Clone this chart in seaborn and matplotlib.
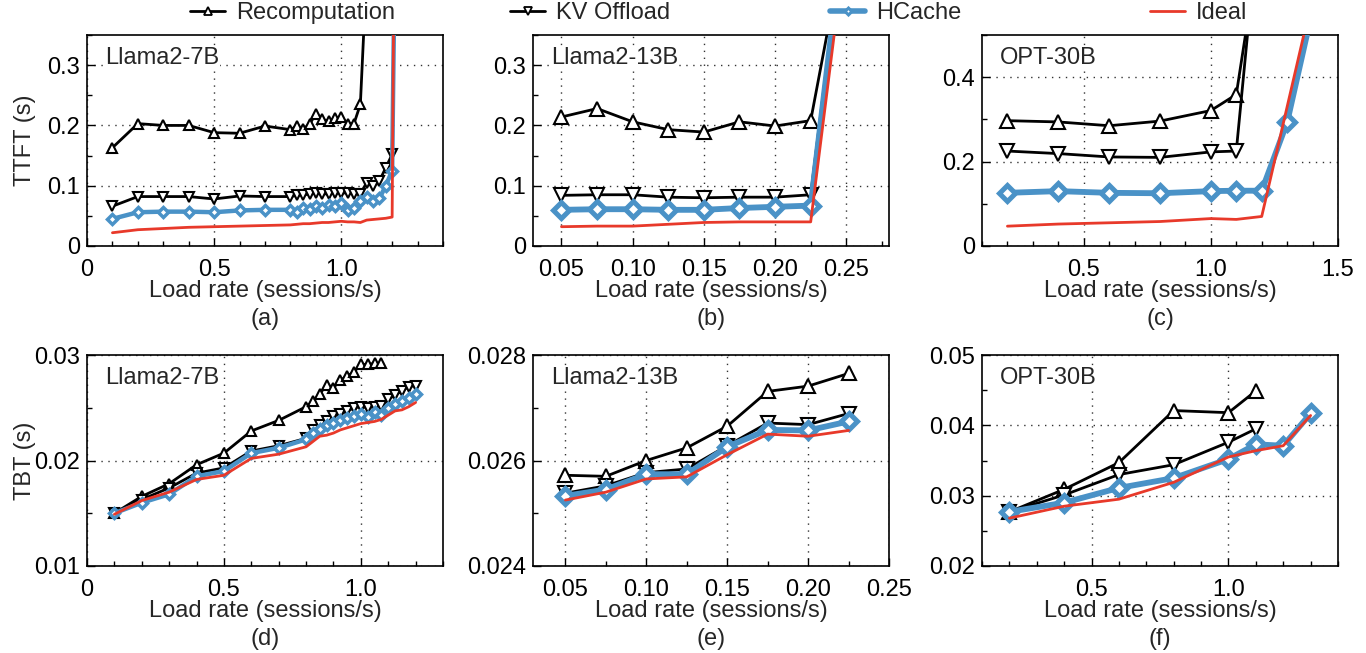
import seaborn as sns
import matplotlib.pyplot as plt
from matplotlib.lines import Line2D
from matplotlib.ticker import MultipleLocator

# (a) Llama2-7B TTFT
a_recomp_x = [0.1, 0.2, 0.3, 0.4, 0.5, 0.6, 0.7, 0.8, 0.825, 0.85, 0.875, 0.9, 0.925,
              0.95, 0.975, 1.0, 1.025, 1.05, 1.075, 1.1]
a_recomp = [0.163, 0.203, 0.200, 0.200, 0.188, 0.187, 0.199, 0.193, 0.199, 0.194, 0.202,
            0.219, 0.210, 0.207, 0.212, 0.214, 0.203, 0.203, 0.235, 0.46]
a_x = [0.1, 0.2, 0.3, 0.4, 0.5, 0.6, 0.7, 0.8, 0.825, 0.85, 0.875, 0.9, 0.925, 0.95,
       0.975, 1.0, 1.025, 1.05, 1.075, 1.1, 1.125, 1.15, 1.175, 1.2, 1.225]
a_kv = [0.066, 0.082, 0.082, 0.082, 0.078, 0.083, 0.082, 0.082, 0.084, 0.085, 0.086,
        0.088, 0.087, 0.086, 0.088, 0.088, 0.088, 0.087, 0.087, 0.105, 0.100, 0.108,
        0.130, 0.152, 0.9]
a_hcache = [0.045, 0.056, 0.057, 0.057, 0.056, 0.059, 0.060, 0.060, 0.057, 0.063, 0.061,
            0.066, 0.063, 0.068, 0.066, 0.071, 0.060, 0.063, 0.074, 0.082, 0.074, 0.079,
            0.100, 0.125, 1.0]
a_ideal = [0.022, 0.027, 0.029, 0.031, 0.032, 0.033, 0.034, 0.035, 0.036, 0.037, 0.037,
           0.038, 0.039, 0.039, 0.040, 0.041, 0.040, 0.040, 0.039, 0.043, 0.044, 0.045,
           0.046, 0.048, 1.5]

# (b) Llama2-13B TTFT
b_x = [0.05, 0.075, 0.1, 0.125, 0.15, 0.175, 0.2, 0.225, 0.25]
b_recomp = [0.214, 0.228, 0.206, 0.193, 0.189, 0.206, 0.199, 0.208, 0.52]
b_kv = [0.084, 0.085, 0.085, 0.081, 0.080, 0.081, 0.081, 0.085, 0.56]
b_hcache = [0.060, 0.061, 0.061, 0.060, 0.060, 0.063, 0.065, 0.067, 0.56]
b_ideal = [0.032, 0.033, 0.033, 0.036, 0.039, 0.040, 0.040, 0.040, 0.51]

# (c) OPT-30B TTFT
c_x = [0.2, 0.4, 0.6, 0.8, 1.0, 1.1, 1.2]
c_recomp = [0.297, 0.294, 0.285, 0.296, 0.321, 0.359, 0.75]
c_kv = [0.225, 0.219, 0.211, 0.210, 0.223, 0.225, 0.85]
c_hcache_x = [0.2, 0.4, 0.6, 0.8, 1.0, 1.1, 1.2, 1.3, 1.4]
c_hcache = [0.126, 0.130, 0.126, 0.125, 0.130, 0.131, 0.131, 0.293, 0.56]
c_ideal_x = [0.2, 0.4, 0.6, 0.8, 1.0, 1.1, 1.2, 1.4]
c_ideal = [0.047, 0.052, 0.055, 0.058, 0.065, 0.063, 0.070, 0.59]

# (d) Llama2-7B TBT
d_recomp_x = [0.1, 0.2, 0.3, 0.4, 0.5, 0.6, 0.7, 0.8, 0.825, 0.85, 0.875, 0.9, 0.925,
              0.95, 0.975, 1.0, 1.025, 1.05, 1.075]
d_recomp = [0.0150, 0.0166, 0.0178, 0.0196, 0.0207, 0.0228, 0.0238, 0.0251, 0.0256,
            0.0263, 0.0272, 0.0269, 0.0276, 0.0280, 0.0284, 0.0291, 0.0291, 0.0292, 0.0292]
d_x = [0.1, 0.2, 0.3, 0.4, 0.5, 0.6, 0.7, 0.8, 0.825, 0.85, 0.875, 0.9, 0.925, 0.95,
       0.975, 1.0, 1.025, 1.05, 1.075, 1.1, 1.125, 1.15, 1.175, 1.2]
d_kv = [0.0150, 0.0163, 0.0174, 0.0188, 0.0193, 0.0209, 0.0214, 0.0221, 0.0229, 0.0234,
        0.0237, 0.0242, 0.0244, 0.0247, 0.0250, 0.0251, 0.0250, 0.0251, 0.0252, 0.0258,
        0.0262, 0.0266, 0.0270, 0.0271]
d_hcache = [0.0150, 0.0160, 0.0168, 0.0185, 0.0190, 0.0207, 0.0212, 0.0220, 0.0226, 0.0230,
            0.0234, 0.0236, 0.0238, 0.0240, 0.0242, 0.0244, 0.0241, 0.0246, 0.0243, 0.0250,
            0.0254, 0.0256, 0.0259, 0.0263]
d_ideal = [0.0149, 0.0162, 0.0170, 0.0182, 0.0186, 0.0202, 0.0206, 0.0213, 0.0218, 0.0223,
           0.0224, 0.0226, 0.0229, 0.0231, 0.0233, 0.0235, 0.0236, 0.0237, 0.0239, 0.0243,
           0.0247, 0.0248, 0.0251, 0.0255]

# (e) Llama2-13B TBT
e_x = [0.05, 0.075, 0.1, 0.125, 0.15, 0.175, 0.2, 0.225]
e_recomp = [0.02572, 0.02570, 0.02600, 0.02624, 0.02665, 0.02731, 0.02741, 0.02765]
e_kv = [0.02538, 0.02552, 0.02577, 0.02584, 0.02628, 0.02671, 0.02668, 0.02689]
e_hcache = [0.02533, 0.02545, 0.02574, 0.02574, 0.02626, 0.02658, 0.02657, 0.02674]
e_ideal = [0.02525, 0.02540, 0.02565, 0.02569, 0.02611, 0.02650, 0.02646, 0.02657]

# (f) OPT-30B TBT
f_x = [0.2, 0.4, 0.6, 0.8, 1.0, 1.1]
f_recomp = [0.0277, 0.0309, 0.0347, 0.0421, 0.0418, 0.0449]
f_kv = [0.0277, 0.0301, 0.0330, 0.0344, 0.0376, 0.0395]
f_hcache_x = [0.2, 0.4, 0.6, 0.8, 1.0, 1.1, 1.2, 1.3]
f_hcache = [0.0277, 0.0290, 0.0311, 0.0325, 0.0352, 0.0373, 0.0371, 0.0417]
f_ideal = [0.0268, 0.0285, 0.0295, 0.0319, 0.0355, 0.0364, 0.0371, 0.0414]

methods = ['Recomputation', 'KV Offload', 'HCache', 'Ideal']

BLUE = '#4a92c7'
RED = '#e8392a'
W, H = 1366, 653
FS = 17


def draw_series(ax, x, y, kind, dense):
    if kind in ('Recomputation', 'KV Offload'):
        sns.lineplot(x=x, y=y, ax=ax, color='black', lw=2.0,
                     marker='^' if kind == 'Recomputation' else 'v',
                     markersize=6.5 if dense else 9.5,
                     markerfacecolor='white', markeredgecolor='black',
                     markeredgewidth=1.5, zorder=3)
    elif kind == 'HCache':
        sns.lineplot(x=x, y=y, ax=ax, color=BLUE, lw=3.2 if dense else 4.2,
                     marker='D', markersize=4.8 if dense else 8,
                     markerfacecolor='white', markeredgecolor=BLUE,
                     markeredgewidth=2.5 if dense else 3.6, zorder=4)
    else:
        sns.lineplot(x=x, y=y, ax=ax, color=RED, lw=2.0, zorder=5)


panels = [
    dict(pos=(87, 35), xlim=(0, 1.4), ylim=(0, 0.35),
         xt=[0, 0.5, 1.0], xtl=['0', '0.5', '1.0'], xm=0.1,
         yt=[0, 0.1, 0.2, 0.3], ytl=['0', '0.1', '0.2', '0.3'], ym=0.05,
         model='Llama2-7B', cap='(a)', ylab='TTFT (s)', dense=True,
         data=[(a_recomp_x, a_recomp), (a_x, a_kv), (a_x, a_hcache), (a_x, a_ideal)]),
    dict(pos=(533, 35), xlim=(0.03, 0.28), ylim=(0, 0.35),
         xt=[0.05, 0.1, 0.15, 0.2, 0.25], xtl=['0.05', '0.10', '0.15', '0.20', '0.25'], xm=0.025,
         yt=[0, 0.1, 0.2, 0.3], ytl=['0', '0.1', '0.2', '0.3'], ym=0.05,
         model='Llama2-13B', cap='(b)', ylab=None, dense=False,
         data=[(b_x, b_recomp), (b_x, b_kv), (b_x, b_hcache), (b_x, b_ideal)]),
    dict(pos=(982, 35), xlim=(0.1, 1.5), ylim=(0, 0.5),
         xt=[0.5, 1.0, 1.5], xtl=['0.5', '1.0', '1.5'], xm=0.1,
         yt=[0, 0.2, 0.4], ytl=['0', '0.2', '0.4'], ym=0.1,
         model='OPT-30B', cap='(c)', ylab=None, dense=False,
         data=[(c_x, c_recomp), (c_x, c_kv), (c_hcache_x, c_hcache), (c_ideal_x, c_ideal)]),
    dict(pos=(87, 355), xlim=(0, 1.3), ylim=(0.01, 0.03),
         xt=[0, 0.5, 1.0], xtl=['0', '0.5', '1.0'], xm=0.1,
         yt=[0.01, 0.02, 0.03], ytl=['0.01', '0.02', '0.03'], ym=0.005,
         model='Llama2-7B', cap='(d)', ylab='TBT (s)', dense=True,
         data=[(d_recomp_x, d_recomp), (d_x, d_kv), (d_x, d_hcache), (d_x, d_ideal)]),
    dict(pos=(533, 355), xlim=(0.03, 0.25), ylim=(0.024, 0.028),
         xt=[0.05, 0.1, 0.15, 0.2, 0.25], xtl=['0.05', '0.10', '0.15', '0.20', '0.25'], xm=0.025,
         yt=[0.024, 0.026, 0.028], ytl=['0.024', '0.026', '0.028'], ym=0.001,
         model='Llama2-13B', cap='(e)', ylab=None, dense=False,
         data=[(e_x, e_recomp), (e_x, e_kv), (e_x, e_hcache), (e_x, e_ideal)]),
    dict(pos=(982, 355), xlim=(0.1, 1.4), ylim=(0.02, 0.05),
         xt=[0.5, 1.0], xtl=['0.5', '1.0'], xm=0.1,
         yt=[0.02, 0.03, 0.04, 0.05], ytl=['0.02', '0.03', '0.04', '0.05'], ym=0.005,
         model='OPT-30B', cap='(f)', ylab=None, dense=False,
         data=[(f_x, f_recomp), (f_x, f_kv), (f_hcache_x, f_hcache), (f_hcache_x, f_ideal)]),
]

sns.set_theme(style='ticks')
plt.rcParams['font.family'] = ['Liberation Sans', 'DejaVu Sans']
plt.rcParams['font.size'] = FS

fig = plt.figure(figsize=(W / 100, H / 100), dpi=100)
aw, ah = 356, 211

for p in panels:
    left, top = p['pos']
    ax = fig.add_axes([left / W, 1 - (top + ah) / H, aw / W, ah / H])
    for kind, (xs, ys) in zip(methods, p['data']):
        draw_series(ax, xs, ys, kind, p['dense'])

    ax.set_xlim(*p['xlim'])
    ax.set_ylim(*p['ylim'])
    ax.set_xticks(p['xt'], labels=p['xtl'])
    ax.set_yticks(p['yt'], labels=p['ytl'])
    ax.xaxis.set_minor_locator(MultipleLocator(p['xm']))
    ax.yaxis.set_minor_locator(MultipleLocator(p['ym']))
    ax.tick_params(which='both', direction='in', colors='black', width=1.0,
                   labelsize=FS, top=False, right=False)
    ax.tick_params(which='major', length=6)
    ax.tick_params(which='minor', length=3.5)
    ax.tick_params(axis='x', pad=9)
    ax.tick_params(axis='y', pad=5)
    ax.grid(True, which='major', color='0.2', linestyle=(0, (1, 4)), linewidth=1.0)
    for s in ax.spines.values():
        s.set_color('black')
        s.set_linewidth(1.2)

    ax.set_xlabel('Load rate (sessions/s)', fontsize=FS)
    ax.xaxis.set_label_coords(0.5, -0.163)
    if p['ylab']:
        ax.set_ylabel(p['ylab'], fontsize=FS)
        ax.yaxis.set_label_coords(-0.143, 0.5)
    else:
        ax.set_ylabel('')

    ax.text(0.05, 0.89, p['model'], transform=ax.transAxes, ha='left', va='center',
            fontsize=FS, zorder=6,
            bbox=dict(facecolor='white', edgecolor='none', pad=1))
    fig.text((left + aw / 2) / W, 1 - (top + ah + 73) / H, p['cap'],
             ha='center', va='center', fontsize=FS)

handles = [
    Line2D([], [], color='black', lw=2, marker='^', markersize=5.5,
           markerfacecolor='white', markeredgecolor='black', markeredgewidth=1.3),
    Line2D([], [], color='black', lw=2, marker='v', markersize=5.5,
           markerfacecolor='white', markeredgecolor='black', markeredgewidth=1.3),
    Line2D([], [], color=BLUE, lw=4, marker='D', markersize=3.5,
           markerfacecolor='white', markeredgecolor=BLUE, markeredgewidth=2.2),
    Line2D([], [], color=RED, lw=2),
]
for i, (h, name) in enumerate(zip(handles, methods)):
    fig.legend(handles=[h], labels=[name], loc='center left',
               bbox_to_anchor=((190 + 320 * i) / W, 1 - 13 / H),
               frameon=False, handlelength=1.5, handletextpad=0.45,
               borderpad=0, borderaxespad=0, fontsize=FS)

fig.savefig('out.png', dpi=100)
